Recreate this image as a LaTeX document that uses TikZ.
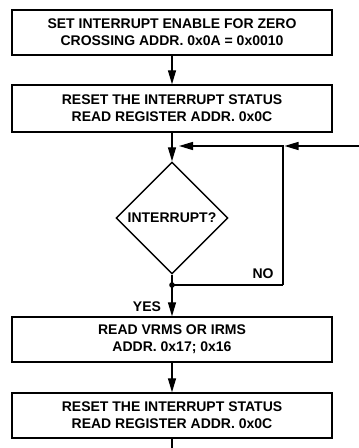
\documentclass[tikz,border=0pt]{standalone}
\usepackage{fontspec}
\setmainfont{Liberation Sans}
\usetikzlibrary{arrows.meta,shapes.geometric}
\begin{document}
\begin{tikzpicture}[x=1pt,y=1pt,
  every node/.style={font=\bfseries\fontsize{14}{17}\selectfont},
  procbox/.style={draw,line width=1.4pt,minimum width=320pt,minimum height=45pt,align=center,inner sep=0pt},
  decision/.style={draw,line width=1.4pt,diamond,minimum width=112pt,minimum height=112pt,inner sep=0pt,aspect=1},
  conn/.style={line width=1.4pt},
  arr/.style={conn,-{Triangle[length=14pt,width=8pt]}},
  lbl/.style={inner sep=0pt}
]
\useasboundingbox (0,0) rectangle (359,448);
\node[procbox] (b1) at (172,415.5) {SET INTERRUPT ENABLE FOR ZERO\\CROSSING ADDR. 0x0A = 0x0010};
\node[procbox,minimum height=47pt] (b2) at (172,339.5) {RESET THE INTERRUPT STATUS\\READ REGISTER ADDR. 0x0C};
\node[decision] (d) at (172,230) {INTERRUPT?};
\node[procbox] (b3) at (172,108.5) {READ VRMS OR IRMS\\ADDR. 0x17; 0x16};
\node[procbox] (b4) at (172,32.5) {RESET THE INTERRUPT STATUS\\READ REGISTER ADDR. 0x0C};
\coordinate (j) at (172,302);
\coordinate (nc) at (283,302);
\coordinate (nd) at (283,163);
\coordinate (dot) at (172,163);
\coordinate (in) at (359,302);
\coordinate (out) at (172,0);
\draw[arr] (b1.south) -- (b2.north);
\draw[arr] (b2.south) -- (d.north);
\draw[arr,shorten >=1.5pt] (in) -- (nc);
\draw[arr,shorten >=7pt] (nd) -- (nc) -- (j);
\draw[conn] (d.south) -- (dot) -- (nd);
\fill (dot) circle (2.8pt);
\draw[arr] (dot) -- (b3.north);
\draw[arr] (b3.south) -- (b4.north);
\draw[conn] (b4.south) -- (out);
\node[lbl] (no) at (263,174) {NO};
\node[lbl] (yes) at (147,141) {YES};
\end{tikzpicture}
\end{document}
